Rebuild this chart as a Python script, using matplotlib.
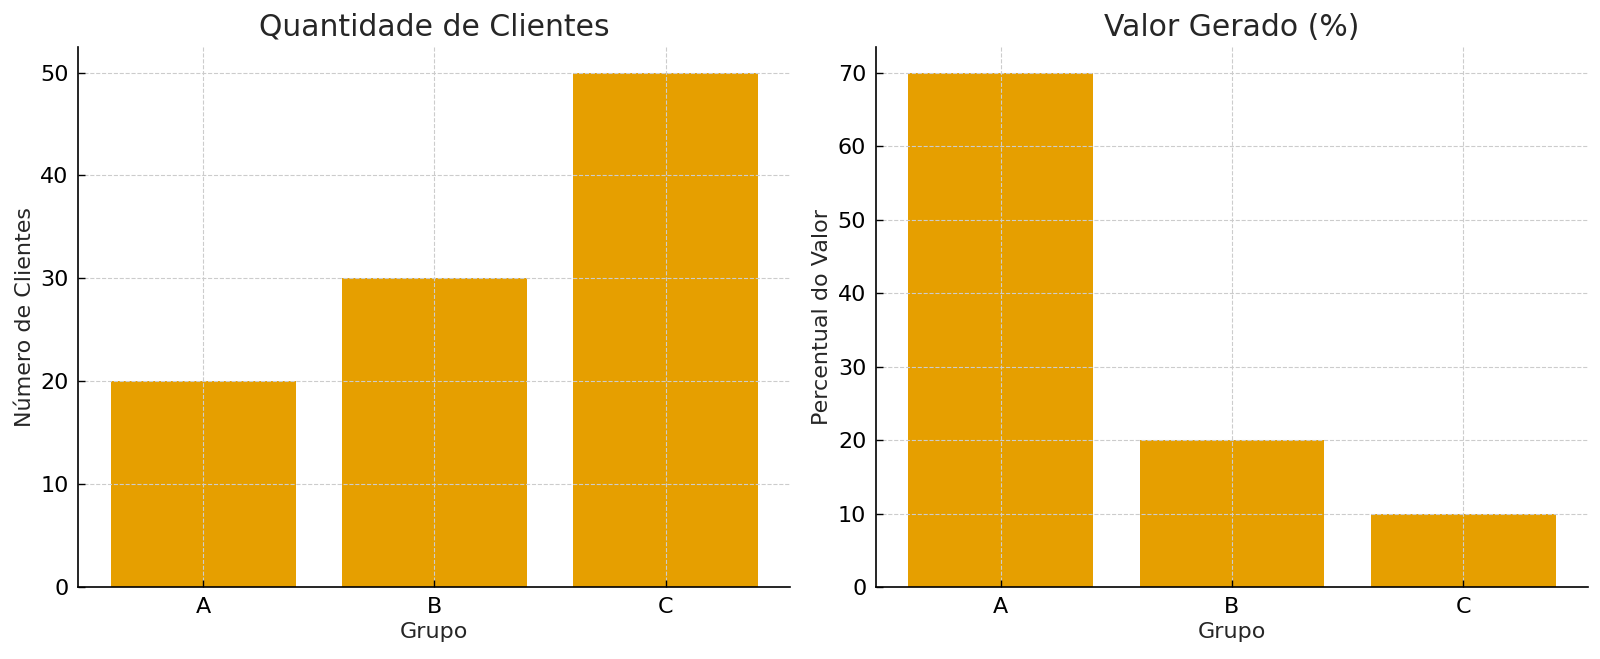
import matplotlib
matplotlib.use('Agg')
import matplotlib.pyplot as plt

# dados
grupos = ['A', 'B', 'C']
clientes = [20, 30, 50]
valor_pct = [70, 20, 10]

COR = '#E69F00'


def estilo(ax, titulo, ylabel):
    ax.set_title(titulo, fontsize=21.5, color='#262626', pad=8)
    ax.set_xlabel('Grupo', fontsize=16, color='#262626')
    ax.set_ylabel(ylabel, fontsize=16, color='#262626')
    ax.grid(True, linestyle='--', color='#cccccc', linewidth=0.8)
    ax.spines['top'].set_visible(False)
    ax.spines['right'].set_visible(False)
    ax.spines['left'].set_linewidth(1.2)
    ax.spines['bottom'].set_linewidth(1.2)
    ax.tick_params(direction='in', labelsize=16, length=5, width=1, pad=7)


def main():
    plt.rcParams['font.family'] = 'DejaVu Sans'
    fig = plt.figure(figsize=(16, 6.59), dpi=100)
    ax1 = fig.add_axes([0.049, 0.109, 0.494 - 0.049, 0.929 - 0.109])
    ax2 = fig.add_axes([0.5475, 0.109, 0.9925 - 0.5475, 0.929 - 0.109])

    ax1.bar(grupos, clientes, color=COR, width=0.8)
    estilo(ax1, 'Quantidade de Clientes', 'Número de Clientes')

    ax2.bar(grupos, valor_pct, color=COR, width=0.8)
    estilo(ax2, 'Valor Gerado (%)', 'Percentual do Valor')

    fig.savefig('out.png', dpi=100)
    plt.close(fig)


if __name__ == '__main__':
    main()
